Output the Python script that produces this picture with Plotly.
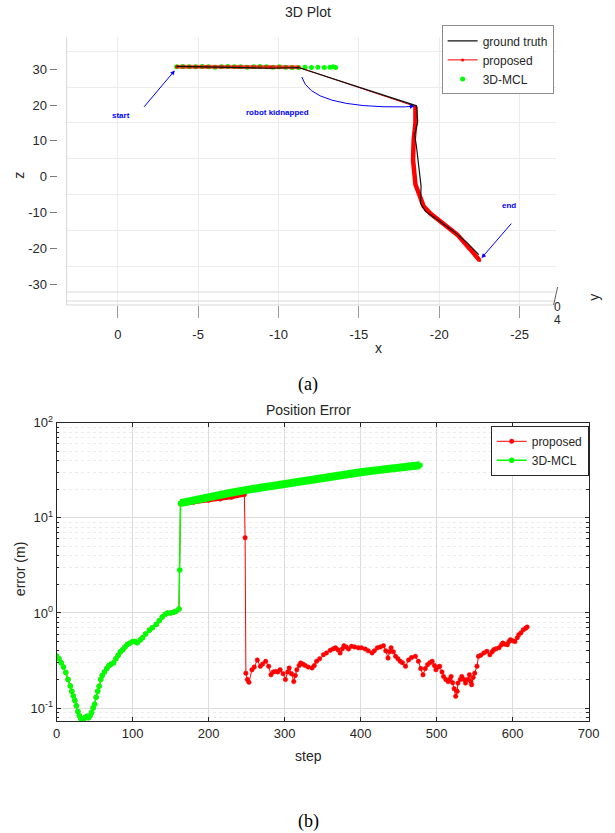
import plotly.graph_objects as go

# ---------------- (a) 3D plot data (x, z projection) ----------------
gt_x = [-3.66, -5.5, -7.5, -9.5, -11.24, -18.58, -18.66, -18.47, -18.58, -18.72, -18.87, -18.83, -19.14, -19.87, -20.9, -21.74, -22.46]
gt_z = [30.8, 30.7, 30.5, 30.3, 30.5, 19.8, 15.4, 11.7, 8.5, 3.8, -2.7, -7.4, -9.7, -12.0, -15.3, -18.5, -21.8]

prop_x = [-3.66, -5.5, -7.5, -9.5, -11.24, -18.52, -18.52, -18.41, -18.37, -18.52, -18.83, -19.03, -19.45, -20.07, -21.12, -21.95, -22.51]
prop_z = [30.7, 30.7, 30.6, 30.6, 30.6, 19.6, 15.0, 10.3, 4.7, -2.2, -5.5, -8.3, -10.3, -12.5, -16.2, -20.4, -23.4]

mcl_x = [-3.66, -4.05, -4.45, -4.85, -5.25, -5.65, -6.05, -6.45, -6.85, -7.25, -7.65, -8.05, -8.45,
         -8.85, -9.25, -9.65, -10.05, -10.45, -10.85, -11.25, -11.65, -12.05, -12.45, -12.85, -13.2,
         -13.4, -13.55]
mcl_z = [30.7, 30.8, 30.7, 30.7, 30.8, 30.7, 30.6, 30.7, 30.8, 30.7, 30.7, 30.6, 30.7, 30.8,
         30.7, 30.6, 30.7, 30.6, 30.5, 30.5, 30.6, 30.5, 30.6, 30.5, 30.6, 30.7, 30.5]

x_ticks = [0, -5, -10, -15, -20, -25]
z_ticks = [-30, -20, -10, 0, 10, 20, 30]
z_grid = [-25, -15, -5, 5, 15, 25, 35]

# ---------------- (b) position error data ----------------
early_step = [0, 3, 6, 9, 12, 15, 18, 20, 22, 24, 26, 28, 30, 32, 34, 36, 38, 40, 42, 44, 46, 48, 50,
              52, 54, 56, 58, 60, 63, 66, 69, 72, 75, 78, 81, 84, 87, 90, 93, 96, 100, 103, 106, 110,
              113, 117, 122, 126, 131, 135, 139, 143, 146, 150, 154, 157, 161]
early_err = [0.352, 0.33, 0.30, 0.27, 0.236, 0.2, 0.171, 0.15, 0.134, 0.12, 0.106, 0.092, 0.083, 0.077,
             0.076, 0.077, 0.08, 0.082, 0.079, 0.083, 0.09, 0.1, 0.11, 0.13, 0.15, 0.17, 0.2, 0.22,
             0.24, 0.26, 0.28, 0.29, 0.3, 0.33, 0.36, 0.39, 0.41, 0.44, 0.467, 0.48, 0.5, 0.5, 0.487,
             0.52, 0.55, 0.6, 0.66, 0.7, 0.755, 0.83, 0.91, 0.97, 1.0, 1.0, 1.02, 1.04, 1.1]

prop_late_step = [163, 180, 200, 215, 230, 247, 248, 249, 251, 253, 257, 260, 264, 268, 271, 275, 279,
                  282, 285, 288, 291, 294, 298, 301, 304, 306, 309, 312, 314, 316, 319, 321, 324, 327,
                  331, 336, 339, 342, 346, 351, 355, 360, 364, 367, 370, 373, 376, 378, 381, 384, 388,
                  392, 397, 401, 406, 410, 415, 418, 422, 426, 430, 433, 436, 438, 440, 443, 446, 449,
                  452, 455, 459, 463, 467, 472, 476, 479, 482, 485, 488, 491, 494, 497, 499, 502, 504,
                  507, 509, 512, 515, 517, 519, 521, 523, 525, 527, 528, 531, 533, 536, 538, 541, 543,
                  545, 546, 548, 550, 553, 555, 558, 562, 566, 570, 573, 575, 578, 582, 585, 587, 590,
                  593, 595, 597, 600, 603, 606, 608, 611, 614, 617, 619]
prop_late_err = [14.0, 14.6, 15.3, 15.8, 16.5, 17.6, 6.2, 0.233, 0.2, 0.187, 0.253, 0.27, 0.32, 0.275,
                 0.29, 0.31, 0.275, 0.224, 0.24, 0.243, 0.24, 0.253, 0.23, 0.2, 0.24, 0.264, 0.23, 0.19,
                 0.22, 0.253, 0.28, 0.298, 0.29, 0.28, 0.27, 0.264, 0.28, 0.31, 0.33, 0.364, 0.38, 0.405,
                 0.42, 0.43, 0.41, 0.38, 0.42, 0.453, 0.44, 0.418, 0.446, 0.44, 0.43, 0.43, 0.418, 0.4,
                 0.38, 0.4, 0.43, 0.44, 0.453, 0.4, 0.336, 0.39, 0.43, 0.39, 0.35, 0.33, 0.31, 0.3,
                 0.275, 0.32, 0.34, 0.35, 0.31, 0.26, 0.224, 0.26, 0.286, 0.3, 0.31, 0.28, 0.253, 0.27,
                 0.275, 0.24, 0.215, 0.2, 0.19, 0.2, 0.215, 0.185, 0.16, 0.133, 0.15, 0.183, 0.2, 0.215,
                 0.2, 0.183, 0.2, 0.224, 0.19, 0.176, 0.21, 0.233, 0.275, 0.35, 0.36, 0.38, 0.395, 0.364,
                 0.39, 0.41, 0.42, 0.43, 0.46, 0.483, 0.47, 0.464, 0.5, 0.524, 0.51, 0.5, 0.55, 0.59,
                 0.62, 0.667, 0.69, 0.712]

mcl_late_step = [162, 163, 180, 200, 225, 250, 275, 300, 325, 350, 375, 400, 425, 450, 478]
mcl_late_err = [2.84, 14.3, 15.4, 16.6, 18.1, 19.7, 21.3, 23.0, 24.8, 26.5, 28.3, 30.2, 32.0, 33.8, 35.8]

err_tickvals = [0.1, 1, 10, 100]
err_ticktext = ["10<sup>-1</sup>", "10<sup>0</sup>", "10<sup>1</sup>", "10<sup>2</sup>"]
err_minor = [m * 10 ** e for e in (-2, -1, 0, 1) for m in range(2, 10)]

RED = "#FF0000"
GREEN = "#00FF00"
BLUE = "#0000FF"
FONT = "Liberation Sans, Arial, sans-serif"

W, H = 615, 833
# layout helpers: convert a target pixel position into paper coordinates
SX, OX = 0.9736, 4.5
SY, OY = 0.9906, 8.6
def px(v): return ((v - OX) / SX) / W
def py(v): return 1 - ((v - OY) / SY) / H

fig = go.Figure()

# ---- top panel traces ----
fig.add_trace(go.Scatter(x=mcl_x, y=mcl_z, mode="markers", name="3D-MCL",
                         marker=dict(color=GREEN, size=5), xaxis="x", yaxis="y",
                         legend="legend", legendrank=3, hoverinfo="skip"))
k = 5  # index where the kidnapped jump lands
fig.add_trace(go.Scatter(x=prop_x[:k], y=prop_z[:k], mode="lines", showlegend=False,
                         line=dict(color=RED, width=4), opacity=0.6,
                         xaxis="x", yaxis="y", hoverinfo="skip"))
fig.add_trace(go.Scatter(x=prop_x[k:], y=prop_z[k:], mode="lines", showlegend=False,
                         line=dict(color=RED, width=4.5),
                         xaxis="x", yaxis="y", hoverinfo="skip"))
fig.add_trace(go.Scatter(x=prop_x, y=prop_z, mode="lines+markers", name="proposed",
                         line=dict(color=RED, width=1), marker=dict(color=RED, size=3),
                         xaxis="x", yaxis="y", legend="legend", legendrank=2, hoverinfo="skip"))
fig.add_trace(go.Scatter(x=gt_x, y=gt_z, mode="lines", name="ground truth",
                         line=dict(color="#111111", width=1.2),
                         xaxis="x", yaxis="y", legend="legend", legendrank=1, hoverinfo="skip"))

# ---- bottom panel traces ----
px_all = early_step + prop_late_step
py_all = early_err + prop_late_err
fig.add_trace(go.Scatter(x=px_all, y=py_all, mode="lines+markers", name="proposed",
                         line=dict(color=RED, width=1),
                         marker=dict(color=RED, size=4.5, line=dict(color=RED, width=0.5)),
                         xaxis="x2", yaxis="y2", legend="legend2", legendrank=1, hoverinfo="skip"))
fig.add_trace(go.Scatter(x=prop_late_step[:6], y=prop_late_err[:6], mode="lines", showlegend=False,
                         line=dict(color=RED, width=4), xaxis="x2", yaxis="y2", hoverinfo="skip"))
mx_all = early_step + mcl_late_step
my_all = early_err + mcl_late_err
fig.add_trace(go.Scatter(x=mx_all, y=my_all, mode="lines+markers", name="3D-MCL",
                         line=dict(color=GREEN, width=1.5), marker=dict(color=GREEN, size=5.5),
                         xaxis="x2", yaxis="y2", legend="legend2", legendrank=2, hoverinfo="skip"))
fig.add_trace(go.Scatter(x=mcl_late_step[1:], y=mcl_late_err[1:], mode="lines", showlegend=False,
                         line=dict(color=GREEN, width=8), xaxis="x2", yaxis="y2", hoverinfo="skip"))

tickfont = dict(family=FONT, size=13, color="#262626")

fig.update_layout(
    width=W, height=H, margin=dict(l=0, r=0, t=0, b=0),
    paper_bgcolor="white", plot_bgcolor="white",
    font=dict(family=FONT, color="#262626"),
    showlegend=True,
    xaxis=dict(domain=[px(67), px(555)], range=[3.18, -27.24], anchor="y",
               tickmode="array", tickvals=x_ticks, ticktext=[str(v) for v in x_ticks],
               ticks="outside", ticklen=12, tickcolor="#9a9a9a", tickwidth=1,
               ticklabelstandoff=5,
               showgrid=True, gridcolor="#ececec", gridwidth=1,
               zeroline=False, showline=False, tickfont=tickfont),
    yaxis=dict(domain=[py(305), py(37)], range=[-35.86, 38.93], anchor="free", position=px(57),
               tickmode="array", tickvals=z_ticks, ticktext=[str(v) for v in z_ticks],
               ticks="outside", ticklen=7, tickcolor="#7a7a7a",
               showgrid=False, zeroline=False, showline=False, tickfont=tickfont,
               minor=dict(tickmode="array", tickvals=z_grid, showgrid=True,
                          gridcolor="#ececec", gridwidth=1, ticks="")),
    xaxis2=dict(domain=[px(57), px(588)], range=[0, 700], anchor="y2",
                tickmode="linear", tick0=0, dtick=100,
                ticks="inside", ticklen=4, tickcolor="#262626",
                showline=True, linecolor="#262626", linewidth=1, mirror="ticks",
                showgrid=True, gridcolor="#dcdcdc", gridwidth=1, zeroline=False,
                tickfont=tickfont),
    yaxis2=dict(domain=[py(722), py(423)], type="log", range=[-1.14, 2], anchor="x2",
                tickmode="array", tickvals=err_tickvals, ticktext=err_ticktext,
                ticks="inside", ticklen=4, tickcolor="#262626",
                showline=True, linecolor="#262626", linewidth=1, mirror="ticks",
                showgrid=True, gridcolor="#dcdcdc", gridwidth=1, zeroline=False,
                tickfont=tickfont,
                minor=dict(tickmode="array", tickvals=err_minor, ticks="inside", ticklen=2.5,
                           tickcolor="#262626", showgrid=True, gridcolor="#ececec",
                           griddash="dot", gridwidth=1)),
    legend=dict(x=px(553), xanchor="right", y=py(25), yanchor="top",
                bordercolor="#8c8c8c", borderwidth=1, bgcolor="white",
                font=dict(family=FONT, size=12, color="#262626"),
                tracegroupgap=0, itemwidth=30),
    legend2=dict(x=px(588), xanchor="right", y=py(426), yanchor="top",
                 bordercolor="#262626", borderwidth=1, bgcolor="white",
                 font=dict(family=FONT, size=12, color="#262626"),
                 tracegroupgap=0, itemwidth=30),
)

# ---- 3D box decorations (top panel) ----
shapes = []
shapes.append(dict(type="line", xref="paper", yref="paper", x0=px(67), x1=px(67), y0=py(305), y1=py(37),
                   line=dict(color="#d4d4d4", width=1)))
for yy in (292, 301, 305):
    shapes.append(dict(type="line", xref="paper", yref="paper", x0=px(67), x1=px(555), y0=py(yy), y1=py(yy),
                       line=dict(color="#d9d9d9", width=1)))
shapes.append(dict(type="line", xref="paper", yref="paper", x0=px(553), x1=px(557), y0=py(305), y1=py(287),
                   line=dict(color="#606060", width=1)))
# curved "robot kidnapped" arrow
shapes.append(dict(type="path", xref="x", yref="y",
                   path="M -11.45,27.85 Q -11.97,19.1 -17.89,19.5",
                   line=dict(color=BLUE, width=1)))
fig.update_layout(shapes=shapes)

ann = []
def label(text, x, y, size=13, angle=0, family=FONT, color="#262626"):
    ann.append(dict(text=text, xref="paper", yref="paper", x=px(x), y=py(y), showarrow=False,
                    xanchor="center", yanchor="middle", textangle=angle,
                    font=dict(family=family, size=size, color=color)))

label("3D Plot", 308, 12, size=14)
label("Position Error", 308, 410, size=14)
label("x", 378, 348, size=14)
label("z", 20, 175, size=14, angle=-90)
label("y", 593, 297, size=14, angle=-90)
label("0", 557, 307, size=12)
label("4", 557, 320, size=12)
label("step", 308, 757, size=14)
label("error (m)", 20, 570, size=14, angle=-90)
label("(a)", 308, 385, size=18, family="Liberation Serif, Times New Roman, serif", color="#000000")
label("(b)", 308, 822, size=18, family="Liberation Serif, Times New Roman, serif", color="#000000")

def note(text, x, y):
    ann.append(dict(text=text, xref="x", yref="y", x=x, y=y, showarrow=False,
                    xanchor="center", yanchor="middle",
                    font=dict(family=FONT, size=8, color=BLUE, weight="bold")))

def arrow(x, y, ax, ay):
    ann.append(dict(text="", xref="x", yref="y", x=x, y=y, ax=ax, ay=ay, axref="x", ayref="y",
                    showarrow=True, arrowhead=2, arrowsize=0.9, arrowwidth=1, arrowcolor=BLUE,
                    standoff=0, startstandoff=0))

note("start", -0.19, 17.2)
arrow(-3.55, 29.7, -1.56, 19.1)
note("robot kidnapped", -9.91, 18.0)
arrow(-18.45, 19.7, -17.8, 19.5)
note("end", -24.31, -7.95)
arrow(-22.63, -22.75, -24.56, -12.7)

fig.update_layout(annotations=ann)

fig.write_html("out.html")
